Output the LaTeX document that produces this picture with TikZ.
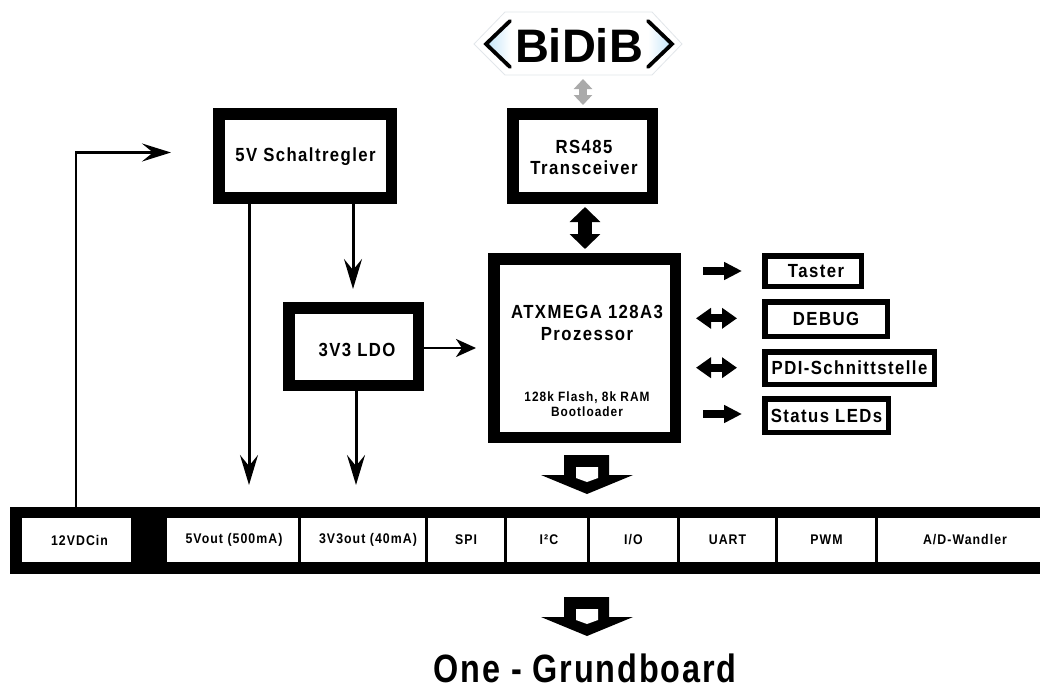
\documentclass[tikz,border=0pt]{standalone}
\usepackage{fontspec}
\setmainfont{Liberation Sans}[FakeStretch=0.88,LetterSpace=7.5]
\newfontfamily\plainfont{Liberation Sans}
\newfontfamily\titlefont{Liberation Sans}[FakeStretch=0.82,LetterSpace=4.7]
\usetikzlibrary{arrows.meta,shadings}
\definecolor{logoblue}{HTML}{BFE3F8}
\definecolor{logoline}{HTML}{E2E6EA}
\definecolor{greyarrow}{HTML}{AAAAAA}
\tikzset{
  x=1pt,y=-1pt,
  bigbox/.style={draw=black,fill=white,line width=11.5pt,font=\bfseries\fontsize{19}{21}\selectfont,align=center,inner sep=0pt,outer sep=0pt},
  boxtext/.style={inner sep=0pt,align=center,font=\bfseries\fontsize{19}{22}\selectfont},
  smallbox/.style={draw=black,fill=white,line width=5.5pt,font=\bfseries\fontsize{19}{21}\selectfont,align=center,inner sep=0pt,outer sep=0pt},
  cell/.style={fill=white,font=\bfseries\fontsize{14}{14}\selectfont,align=center,inner sep=0pt,outer sep=0pt,minimum height=44pt},
  conn/.style={draw=black,line width=3pt,-{Stealth[length=30pt,width=18pt,inset=11pt]}},
  connshort/.style={draw=black,line width=2.6pt,-{Stealth[length=20pt,width=18pt,inset=6pt]}},
  fat/.style={draw=black,line width=7.7pt,-{Triangle[length=18pt,width=17pt]}},
  fatboth/.style={draw=black,line width=7.7pt,{Triangle[length=15pt,width=20pt]}-{Triangle[length=15pt,width=20pt]}},
  fatvert/.style={draw=black,line width=14pt,{Triangle[length=15pt,width=30pt]}-{Triangle[length=15pt,width=30pt]}},
  greyboth/.style={draw=greyarrow,line width=8pt,{Triangle[length=10pt,width=18pt]}-{Triangle[length=10pt,width=18pt]}},
}
\newcommand{\hollowarrow}[1]{%
  \fill[black,shift={(0,#1)}] (564,0) -- (609,0) -- (609,20) -- (633,20) -- (587,39) -- (541,20) -- (564,20) -- cycle;
  \fill[white,shift={(0,#1)}] (576,12) -- (598,12) -- (598,23) -- (587,27) -- (576,23) -- cycle;
}
\begin{document}
\begin{tikzpicture}
\useasboundingbox (0,0) rectangle (1040,686);
\fill[white] (0,0) rectangle (1040,686);
% BiDiB logo
\draw[logoline,line width=0.8pt] (505,12) -- (652,12) -- (682,44) -- (652,75) -- (505,75) -- (474,44) -- cycle;
\begin{scope}
\clip (511,20) -- (485,44) -- (511,68) -- cycle;
\shade[left color=logoblue,right color=white] (485,20) rectangle (511,68);
\end{scope}
\begin{scope}
\clip (648,20) -- (673,44) -- (648,68) -- cycle;
\shade[left color=white,right color=logoblue] (648,20) rectangle (673,68);
\end{scope}
\draw[black,line width=3.8pt,line cap=round] (510,21) -- (486,44) -- (510,67);
\draw[black,line width=3.8pt,line cap=round] (648,21) -- (672,44) -- (648,67);
\node[inner sep=0pt,font=\plainfont\bfseries\fontsize{47}{47}\selectfont] (bidib) at (579,45) {BiDiB};
% main boxes
\node[bigbox,minimum width=172.5pt,minimum height=84pt] (sw) at (305,155.75) {};
\node[boxtext] (swt) at (305.5,156.5) {5V Schaltregler};
\node[bigbox,minimum width=139.5pt,minimum height=84pt] (rs) at (582.5,155.75) {};
\node[boxtext,font=\bfseries\fontsize{19}{21}\selectfont] (rst) at (584,157.5) {RS485\\Transceiver};
\node[bigbox,minimum width=181.5pt,minimum height=178.5pt] (mcu) at (584.5,348) {};
\node[boxtext] (mcut) at (587,323) {ATXMEGA 128A3\\Prozessor};
\node[inner sep=0pt,align=center,font=\bfseries\fontsize{13.5}{15}\selectfont] (mcus) at (587,404.5) {128k Flash, 8k RAM\\Bootloader};
\node[bigbox,minimum width=129.5pt,minimum height=77.5pt] (ldo) at (353.5,346.5) {};
\node[boxtext] (ldot) at (357,350) {3V3 LDO};
% side boxes
\node[smallbox,minimum width=96.5pt,minimum height=30.5pt] (taster) at (813,271) {\hspace*{6pt}Taster};
\node[smallbox,minimum width=122.5pt,minimum height=34.5pt] (debug) at (826,319) {DEBUG};
\node[smallbox,minimum width=169.5pt,minimum height=32.5pt] (pdi) at (849.5,368) {PDI-Schnittstelle};
\node[smallbox,minimum width=123.5pt,minimum height=33.5pt] (status) at (826.5,415.5) {Status LEDs};
% bar
\node[fill=black,inner sep=0pt,outer sep=0pt,minimum width=1030pt,minimum height=67pt] (bar) at (525,540.5) {};
\node[cell,minimum width=109pt] (c1) at (76.5,540) {\hspace*{6pt}12VDCin};
\node[cell,minimum width=131pt] (c2) at (232.5,540) {\hspace*{3pt}5Vout (500mA)};
\node[cell,minimum width=124pt] (c3) at (363,540) {\hspace*{10pt}3V3out (40mA)};
\node[cell,minimum width=76pt] (c4) at (466,540) {SPI};
\node[cell,minimum width=80pt] (c5) at (547,540) {\hspace*{4pt}I²C};
\node[cell,minimum width=87pt] (c6) at (633.5,540) {I/O};
\node[cell,minimum width=95pt] (c7) at (727.5,540) {UART};
\node[cell,minimum width=97pt] (c8) at (826.5,540) {PWM};
\node[cell,minimum width=162pt] (c9) at (959,540) {\hspace*{12pt}A/D-Wandler};
% hollow arrows
\hollowarrow{455}
\hollowarrow{597}
\node[inner sep=0pt,anchor=base,font=\titlefont\bfseries\fontsize{39.5}{40}\selectfont] (title) at (585,682.5) {One - Grundboard};
% connectors
\coordinate (t0) at (171,152.5);
\coordinate (t1) at (76,152.5);
\draw[conn,line width=2.8pt,-{Stealth[length=29pt,width=18pt,inset=11pt]}] (t1 |- bar.north) -- (t1) -- (t0);
\coordinate (a1) at (249,485);
\draw[conn] (a1 |- sw.south) -- (a1);
\coordinate (a2) at (356,485);
\draw[conn] (a2 |- ldo.south) -- (a2);
\coordinate (a3) at (353,289);
\draw[conn] (a3 |- sw.south) -- (a3);
\coordinate (a4) at (476,348);
\draw[connshort] (ldo.east |- a4) -- (a4);
% fat arrows
\coordinate (g1) at (583,79); \coordinate (g2) at (583,105);
\draw[greyboth] (g1) -- (g2);
\coordinate (k1) at (585,207); \coordinate (k2) at (585,249);
\draw[fatvert] (k1) -- (k2);
\coordinate (b1) at (703,271); \coordinate (b2) at (742,271);
\draw[fat] (b1) -- (b2);
\coordinate (b3) at (696,318.3); \coordinate (b4) at (737,318.3);
\draw[fatboth] (b3) -- (b4);
\coordinate (b5) at (696,367.7); \coordinate (b6) at (737,367.7);
\draw[fatboth] (b5) -- (b6);
\coordinate (b7) at (703,414); \coordinate (b8) at (742,414);
\draw[fat] (b7) -- (b8);
\end{tikzpicture}
\end{document}
